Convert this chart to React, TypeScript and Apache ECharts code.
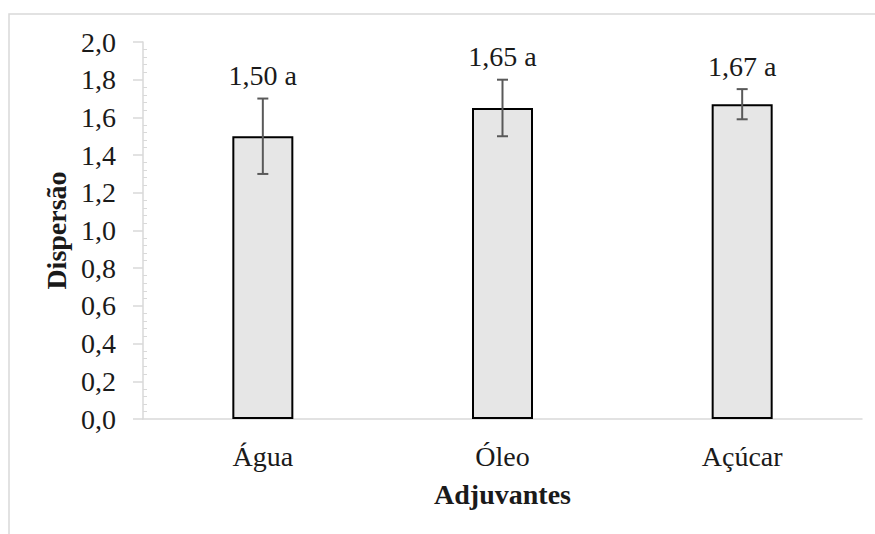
import React, { useEffect, useRef } from "react";
import * as echarts from "echarts";

const categories = ["Água", "Óleo", "Açúcar"];
const means = [1.5, 1.65, 1.67];
const errLow = [1.3, 1.5, 1.59];
const errHigh = [1.7, 1.8, 1.75];
const barLabels = ["1,50 a", "1,65 a", "1,67 a"];
const yTicks = { min: 0, max: 2, interval: 0.2 };

const FONT = "Liberation Serif";
const FS = 28;

export default function App() {
  const ref = useRef<HTMLDivElement>(null);
  useEffect(() => {
    if (!ref.current) return;
    const chart = echarts.init(ref.current, undefined, { renderer: "svg" });
    const errData = categories.map((_, i) => [i, errLow[i], errHigh[i]]);
    chart.setOption({
      animation: false,
      backgroundColor: "#ffffff",
      textStyle: { fontFamily: FONT },
      graphic: [
        {
          type: "rect",
          shape: { x: 9, y: 14, width: 900, height: 600 },
          style: { fill: "none", stroke: "#d9d9d9", lineWidth: 1.5 },
          silent: true,
          z: -10,
        },
      ],
      grid: { left: 143, right: 13, top: 42, bottom: 115, containLabel: false },
      xAxis: {
        type: "category",
        data: categories,
        axisLine: { lineStyle: { color: "#d9d9d9", width: 1.5 } },
        axisTick: { show: false },
        axisLabel: { color: "#1a1a1a", fontSize: FS, fontFamily: FONT, margin: 23 },
        name: "Adjuvantes",
        nameLocation: "middle",
        nameGap: 61,
        nameTextStyle: { color: "#1a1a1a", fontSize: FS, fontWeight: "bold", fontFamily: FONT },
      },
      yAxis: {
        type: "value",
        min: yTicks.min,
        max: yTicks.max,
        interval: yTicks.interval,
        axisLine: { show: true, lineStyle: { color: "#d9d9d9", width: 1.5 } },
        axisTick: { show: true, length: 10, lineStyle: { color: "#d9d9d9", width: 1.5 } },
        minorTick: { show: true, splitNumber: 5, length: -4, lineStyle: { color: "#d9d9d9", width: 1 } },
        splitLine: { show: false },
        axisLabel: {
          color: "#1a1a1a",
          fontSize: FS,
          fontFamily: FONT,
          margin: 27,
          formatter: (v: number) => v.toFixed(1).replace(".", ","),
        },
        name: "Dispersão",
        nameLocation: "middle",
        nameGap: 71,
        nameTextStyle: { color: "#1a1a1a", fontSize: FS, fontWeight: "bold", fontFamily: FONT },
      },
      series: [
        {
          type: "bar",
          data: means,
          barWidth: 61,
          itemStyle: { color: "#e6e6e6", borderColor: "#000000", borderWidth: 2 },
        },
        {
          type: "custom",
          data: errData,
          z: 5,
          renderItem: (params: any, api: any) => {
            const i = api.value(0);
            const hi = api.coord([i, api.value(2)]);
            const lo = api.coord([i, api.value(1)]);
            const x = hi[0];
            const cap = 5.5;
            const st = { stroke: "#595959", lineWidth: 2 };
            return {
              type: "group",
              children: [
                { type: "line", shape: { x1: x, y1: hi[1], x2: x, y2: lo[1] }, style: st },
                { type: "line", shape: { x1: x - cap, y1: hi[1], x2: x + cap, y2: hi[1] }, style: st },
                { type: "line", shape: { x1: x - cap, y1: lo[1], x2: x + cap, y2: lo[1] }, style: st },
                {
                  type: "text",
                  x: x,
                  y: hi[1] - 23,
                  style: {
                    text: barLabels[params.dataIndex],
                    fill: "#1a1a1a",
                    fontSize: FS,
                    fontFamily: FONT,
                    align: "center",
                    verticalAlign: "middle",
                  },
                },
              ],
            };
          },
        },
      ],
    });
    return () => chart.dispose();
  }, []);
  return (
    <div
      ref={ref}
      style={{ position: "fixed", left: 0, top: 0, width: 875, height: 534, background: "#fff" }}
    />
  );
}
